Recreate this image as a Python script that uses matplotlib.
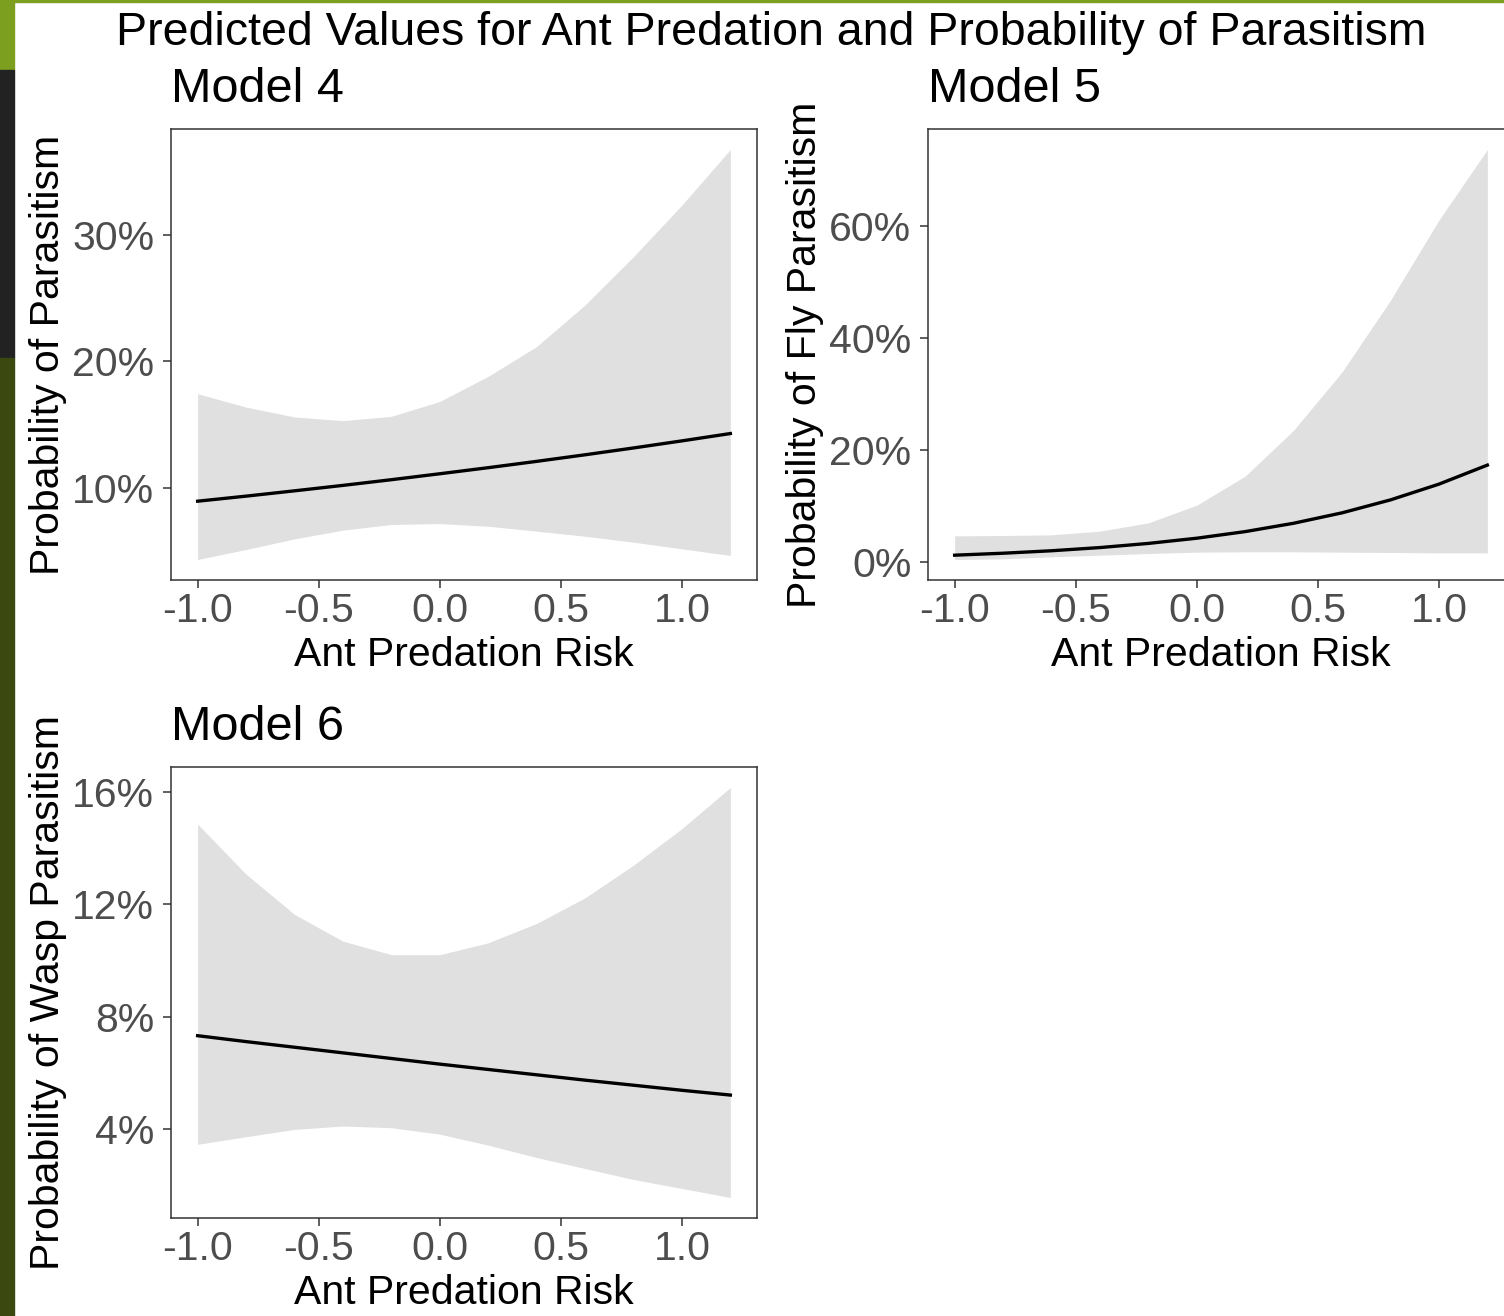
import matplotlib
matplotlib.use('Agg')
import matplotlib.pyplot as plt
from matplotlib.patches import Rectangle
from matplotlib.ticker import PercentFormatter

plt.rcParams['font.family'] = ['Liberation Sans', 'DejaVu Sans']

# predicted probabilities (%) with 95% interval, evaluated at these risk values
risk = [-1.0, -0.8, -0.6, -0.4, -0.2, 0.0, 0.2, 0.4, 0.6, 0.8, 1.0, 1.2]

m4_fit = [8.95, 9.35, 9.77, 10.2, 10.65, 11.12, 11.6, 12.1, 12.62, 13.16, 13.72, 14.3]
m4_lo = [4.34, 5.13, 5.97, 6.66, 7.11, 7.18, 6.97, 6.58, 6.18, 5.71, 5.18, 4.66]
m4_hi = [17.45, 16.39, 15.61, 15.32, 15.66, 16.84, 18.82, 21.18, 24.47, 28.29, 32.37, 36.76]

m5_fit = [1.19, 1.54, 1.98, 2.55, 3.29, 4.22, 5.4, 6.89, 8.75, 11.06, 13.87, 17.27]
m5_lo = [0.42, 0.54, 0.9, 1.19, 1.49, 1.73, 1.79, 1.79, 1.73, 1.67, 1.61, 1.61]
m5_hi = [4.64, 4.7, 4.82, 5.48, 6.96, 10.12, 15.3, 23.5, 33.9, 46.7, 61.0, 73.6]

m6_fit = [7.33, 7.12, 6.92, 6.72, 6.52, 6.32, 6.13, 5.94, 5.75, 5.57, 5.39, 5.22]
m6_lo = [3.47, 3.74, 4.0, 4.12, 4.06, 3.83, 3.44, 3.0, 2.61, 2.22, 1.9, 1.58]
m6_hi = [14.85, 13.07, 11.64, 10.69, 10.21, 10.21, 10.63, 11.32, 12.23, 13.39, 14.69, 16.15]

x_ticks = [-1.0, -0.5, 0.0, 0.5, 1.0]
m4_yticks = [10, 20, 30]
m5_yticks = [0, 20, 40, 60]
m6_yticks = [4, 8, 12, 16]

W, H = 1504, 1316
fig = plt.figure(figsize=(W / 100, H / 100), dpi=100)
fig.patch.set_facecolor('white')

# slide edge behind the figure
fig.patches.append(Rectangle((0, 1 - 2 / H), 1, 2 / H, transform=fig.transFigure,
                             color='#7c9f1f', zorder=0))
fig.patches.append(Rectangle((0, 1 - 70 / H), 14 / W, 70 / H, transform=fig.transFigure,
                             color='#7c9f1f', zorder=0))
fig.patches.append(Rectangle((0, 1 - 358 / H), 14 / W, 288 / H, transform=fig.transFigure,
                             color='#222222', zorder=0))
fig.patches.append(Rectangle((0, 0), 14 / W, 1 - 358 / H, transform=fig.transFigure,
                             color='#3b4810', zorder=0))


def px_axes(left, top, right, bottom):
    return fig.add_axes([left / W, 1 - bottom / H, (right - left) / W, (bottom - top) / H])


def panel(ax, fit, lo, hi, yticks, title, ylabel):
    ax.fill_between(risk, lo, hi, color='#e0e0e0', linewidth=0)
    ax.plot(risk, fit, color='black', linewidth=2.4)
    ax.margins(x=0.05, y=0.05)
    ax.set_xticks(x_ticks)
    ax.set_xticklabels(['-1.0', '-0.5', '0.0', '0.5', '1.0'])
    ax.set_yticks(yticks)
    ax.yaxis.set_major_formatter(PercentFormatter(xmax=100, decimals=0))
    ax.tick_params(length=6, width=1.1, color='#333333', labelcolor='#4d4d4d',
                   labelsize=29.5)
    ax.tick_params(axis='x', pad=3)
    ax.tick_params(axis='y', pad=6)
    for s in ax.spines.values():
        s.set_color('#333333')
        s.set_linewidth(1.1)
    ax.set_xlabel('Ant Predation Risk', fontsize=29.5, labelpad=4)
    ax.set_ylabel(ylabel, fontsize=29.5, labelpad=3.5)
    ax.set_title(title, loc='left', fontsize=35, pad=19.5)


ax4 = px_axes(171, 129, 757, 580)
panel(ax4, m4_fit, m4_lo, m4_hi, m4_yticks, 'Model 4', 'Probability of Parasitism')

ax5 = px_axes(928, 129, 1514, 580)
panel(ax5, m5_fit, m5_lo, m5_hi, m5_yticks, 'Model 5', 'Probability of Fly Parasitism')

ax6 = px_axes(171, 767, 757, 1218)
panel(ax6, m6_fit, m6_lo, m6_hi, m6_yticks, 'Model 6', 'Probability of Wasp Parasitism')

fig.text(771 / W, 1 - 45 / H, 'Predicted Values for Ant Predation and Probability of Parasitism',
         ha='center', va='baseline', fontsize=33.5)

fig.savefig('out.png', dpi=100)
